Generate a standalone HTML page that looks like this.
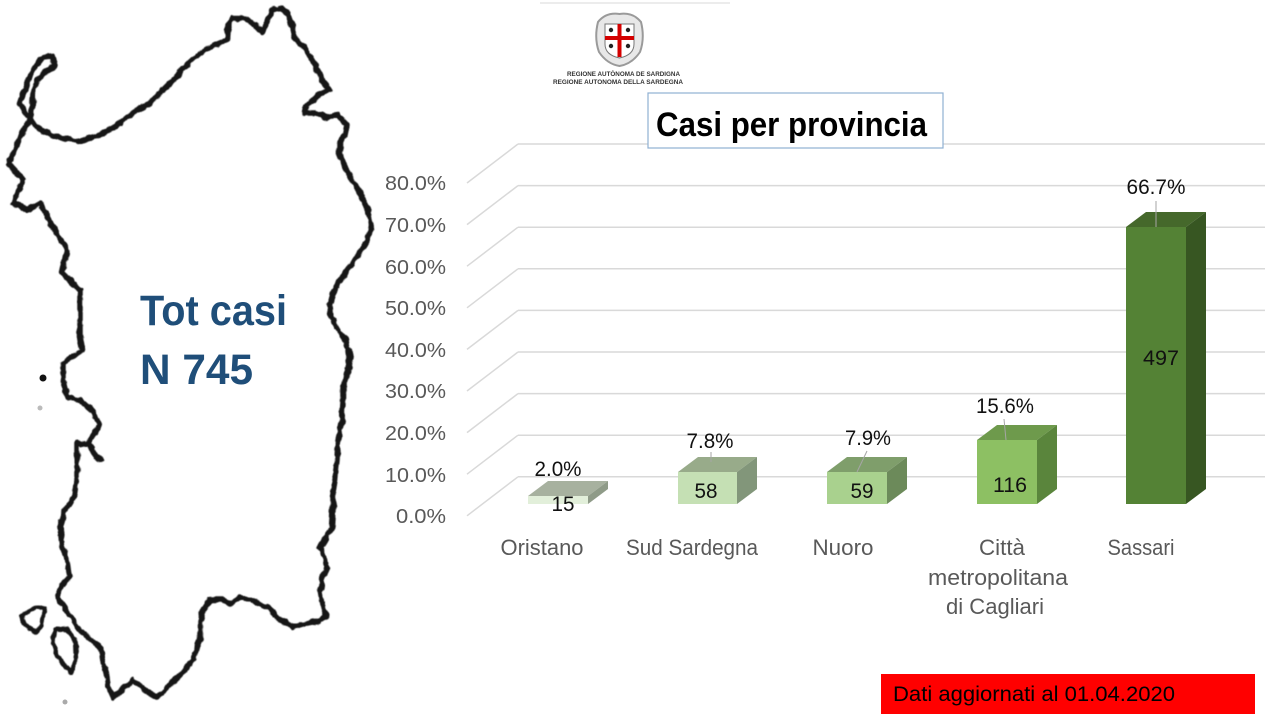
<!DOCTYPE html>
<html><head><meta charset="utf-8"><style>
html,body{margin:0;padding:0;background:#fff;}
svg{display:block;}
text{font-family:"Liberation Sans",Arial,sans-serif;}
</style></head><body>
<svg width="1281" height="721" viewBox="0 0 1281 721" xmlns="http://www.w3.org/2000/svg">
<defs>
<filter id="wig" x="-5%" y="-5%" width="110%" height="110%">
<feTurbulence type="fractalNoise" baseFrequency="0.12" numOctaves="2" seed="3" result="n"/>
<feDisplacementMap in="SourceGraphic" in2="n" scale="5" xChannelSelector="R" yChannelSelector="G" result="d"/>
<feGaussianBlur in="d" stdDeviation="0.6"/>
</filter>
</defs>
<rect width="1281" height="721" fill="#fff"/>
<!-- faint top line -->
<line x1="540" y1="3" x2="730" y2="3" stroke="#e6e6e6" stroke-width="1.5"/>

<!-- Sardinia map outline -->
<g fill="none" stroke="#151515" stroke-width="5.5" stroke-linejoin="round" stroke-linecap="round" filter="url(#wig)">
<path d="M30,120 L20,103 L27,83 L33,70 L43,57 L52,56 L55,65 L47,71 L38,80 L33,93 L32,110 L30,120
L40,130 L52,135 L66,139 L82,141 L100,135 L117,125 L135,112 L150,103 L165,88 L176,77 L190,62 L200,53 L215,45 L227,40 L228,25 L232,18 L245,18 L255,25 L262,32 L268,20 L272,10 L281,8 L288,15 L292,26 L296,40 L306,50 L315,64 L322,80 L330,90 L318,95 L305,108 L304,113 L316,113 L326,117 L337,115 L347,125 L345,135 L340,141 L340,155 L345,167 L352,180 L360,193 L368,210 L371,225 L368,240 L360,252 L350,267 L340,280 L333,293 L330,305 L331,317 L338,330 L347,343 L350,360 L347,375 L343,387 L343,402 L342,420 L338,440 L337,460 L335,480 L333,493 L333,510 L332,527 L325,540 L320,548 L325,557 L327,567 L322,580 L320,593 L322,605 L326,617 L320,621 L310,623 L293,627 L280,620 L267,607 L252,600 L240,597 L233,603 L222,600 L210,600 L203,610 L200,622 L200,640 L193,660 L180,675 L166,689 L157,697 L145,690 L133,680 L122,690 L113,697 L108,686 L107,677 L103,660 L100,647 L88,637 L77,627 L68,612 L57,597 L62,585 L70,577 L67,560 L62,545 L60,527 L65,510 L75,495 L77,480 L77,460 L77,443 L87,445 L100,460 L88,443 L100,425 L92,410 L80,400 L67,397 L63,380 L63,363 L83,350 L80,337 L80,290 L62,273 L67,250 L53,227 L40,203 L27,210 L13,203 L23,180 L8,163 L15,150 L20,136 L30,120 Z"/>
<path d="M22,615 L35,608 L45,607 L42,625 L35,632 L25,625 Z" stroke-width="4.5"/>
<path d="M55,630 L65,628 L75,640 L76,660 L70,673 L60,660 L53,645 Z" stroke-width="4.5"/>
</g>
<circle cx="43" cy="378" r="3.5" fill="#111"/>
<circle cx="40" cy="408" r="2.5" fill="#bbb"/>
<circle cx="65" cy="702" r="2.5" fill="#aaa"/>

<!-- Tot casi -->
<text x="140" y="325" font-size="43" font-weight="bold" fill="#1F4E79" textLength="147" lengthAdjust="spacingAndGlyphs">Tot casi</text>
<text x="140" y="384" font-size="43" font-weight="bold" fill="#1F4E79" textLength="113" lengthAdjust="spacingAndGlyphs">N 745</text>

<!-- Logo -->
<g>
<path d="M598,22 Q606,12 619.5,14 Q633,12 641,22 Q645,38 640,52 Q632,64 619.5,66 Q607,64 599,52 Q594,38 598,22 Z" fill="#e8e8e8" stroke="#9a9a9a" stroke-width="2"/>
<path d="M605,24 L634,24 L634,44 Q634,55 619.5,58 Q605,55 605,44 Z" fill="#fff" stroke="#777" stroke-width="1"/>
<rect x="617.5" y="24" width="4" height="33" fill="#d40000"/>
<rect x="605" y="36" width="29" height="4" fill="#d40000"/>
<circle cx="611" cy="30" r="2.2" fill="#222"/>
<circle cx="628" cy="30" r="2.2" fill="#222"/>
<circle cx="611" cy="46" r="2.2" fill="#222"/>
<circle cx="628" cy="46" r="2.2" fill="#222"/>
<text x="567" y="76" font-size="6" font-weight="bold" fill="#333" textLength="113" lengthAdjust="spacingAndGlyphs">REGIONE AUTÒNOMA DE SARDIGNA</text>
<text x="553" y="84" font-size="6" font-weight="bold" fill="#333" textLength="130" lengthAdjust="spacingAndGlyphs">REGIONE AUTONOMA DELLA SARDEGNA</text>
</g>

<!-- Gridlines -->
<g stroke="#d9d9d9" stroke-width="1.5" fill="none">
<line x1="518" y1="144" x2="1265" y2="144"/>
<line x1="518" y1="185.6" x2="1265" y2="185.6"/>
<line x1="518" y1="227.2" x2="1265" y2="227.2"/>
<line x1="518" y1="268.8" x2="1265" y2="268.8"/>
<line x1="518" y1="310.4" x2="1265" y2="310.4"/>
<line x1="518" y1="352" x2="1265" y2="352"/>
<line x1="518" y1="393.6" x2="1265" y2="393.6"/>
<line x1="518" y1="435.2" x2="1265" y2="435.2"/>
<line x1="518" y1="476.8" x2="1265" y2="476.8"/>
<line x1="518" y1="144" x2="467" y2="183"/>
<line x1="518" y1="185.6" x2="467" y2="224.6"/>
<line x1="518" y1="227.2" x2="467" y2="266.2"/>
<line x1="518" y1="268.8" x2="467" y2="307.8"/>
<line x1="518" y1="310.4" x2="467" y2="349.4"/>
<line x1="518" y1="352" x2="467" y2="391"/>
<line x1="518" y1="393.6" x2="467" y2="432.6"/>
<line x1="518" y1="435.2" x2="467" y2="474.2"/>
<line x1="518" y1="476.8" x2="467" y2="515.8"/>
</g>

<!-- Title box -->
<rect x="648" y="93" width="295" height="55" fill="#fff" stroke="#8fb0d3" stroke-width="1.2"/>
<text x="656" y="136" font-size="34" font-weight="bold" fill="#000" textLength="271" lengthAdjust="spacingAndGlyphs">Casi per provincia</text>

<!-- Y axis labels -->
<g font-size="20" fill="#595959" text-anchor="end">
<text x="446" y="190" textLength="61" lengthAdjust="spacingAndGlyphs">80.0%</text>
<text x="446" y="232" textLength="61" lengthAdjust="spacingAndGlyphs">70.0%</text>
<text x="446" y="274" textLength="61" lengthAdjust="spacingAndGlyphs">60.0%</text>
<text x="446" y="315" textLength="61" lengthAdjust="spacingAndGlyphs">50.0%</text>
<text x="446" y="357" textLength="61" lengthAdjust="spacingAndGlyphs">40.0%</text>
<text x="446" y="398" textLength="61" lengthAdjust="spacingAndGlyphs">30.0%</text>
<text x="446" y="440" textLength="61" lengthAdjust="spacingAndGlyphs">20.0%</text>
<text x="446" y="482" textLength="61" lengthAdjust="spacingAndGlyphs">10.0%</text>
<text x="446" y="523" textLength="50" lengthAdjust="spacingAndGlyphs">0.0%</text>
</g>

<!-- Bars -->
<polygon points="528,496 548,481 608,481 588,496" fill="#a7b19f"/>
<polygon points="588,496 608,481 608,489 588,504" fill="#8f9b88"/>
<rect x="528" y="496" width="60" height="8" fill="#e2efda"/>
<polygon points="678,472 698,457 757,457 737,472" fill="#98ab8a"/>
<polygon points="737,472 757,457 757,489 737,504" fill="#82967a"/>
<rect x="678" y="472" width="59" height="32" fill="#c5e0b4"/>
<polygon points="827,472 847,457 907,457 887,472" fill="#7f9e6b"/>
<polygon points="887,472 907,457 907,489 887,504" fill="#6c8a5a"/>
<rect x="827" y="472" width="60" height="32" fill="#a9d18e"/>
<polygon points="977,440 997,425 1057,425 1037,440" fill="#6e9a4c"/>
<polygon points="1037,440 1057,425 1057,489 1037,504" fill="#5a853c"/>
<rect x="977" y="440" width="60" height="64" fill="#8dc063"/>
<polygon points="1126,227 1146,212 1206,212 1186,227" fill="#45682b"/>
<polygon points="1186,227 1206,212 1206,489 1186,504" fill="#375622"/>
<rect x="1126" y="227" width="60" height="277" fill="#548235"/>

<!-- Leader lines -->
<g stroke="#a6a6a6" stroke-width="1">
<line x1="711" y1="452" x2="711" y2="462"/>
<line x1="867" y1="451" x2="857" y2="472"/>
<line x1="1004" y1="419" x2="1006" y2="440"/>
<line x1="1156" y1="201" x2="1156" y2="227"/>
</g>

<!-- Data labels -->
<g font-size="21" fill="#111" text-anchor="middle">
<text x="558" y="476" textLength="47" lengthAdjust="spacingAndGlyphs">2.0%</text>
<text x="563" y="511" textLength="23" lengthAdjust="spacingAndGlyphs">15</text>
<text x="710" y="448" textLength="47" lengthAdjust="spacingAndGlyphs">7.8%</text>
<text x="706" y="498" textLength="23" lengthAdjust="spacingAndGlyphs">58</text>
<text x="868" y="445" textLength="46" lengthAdjust="spacingAndGlyphs">7.9%</text>
<text x="862" y="498" textLength="23" lengthAdjust="spacingAndGlyphs">59</text>
<text x="1005" y="413" textLength="58" lengthAdjust="spacingAndGlyphs">15.6%</text>
<text x="1010" y="492" textLength="34" lengthAdjust="spacingAndGlyphs">116</text>
<text x="1156" y="194" textLength="59" lengthAdjust="spacingAndGlyphs">66.7%</text>
<text x="1161" y="365" textLength="36" lengthAdjust="spacingAndGlyphs">497</text>
</g>

<!-- Category labels -->
<g font-size="22" fill="#595959" text-anchor="middle">
<text x="542" y="555" textLength="83" lengthAdjust="spacingAndGlyphs">Oristano</text>
<text x="692" y="555" textLength="132" lengthAdjust="spacingAndGlyphs">Sud Sardegna</text>
<text x="843" y="555" textLength="61" lengthAdjust="spacingAndGlyphs">Nuoro</text>
<text x="1002" y="555" textLength="46" lengthAdjust="spacingAndGlyphs">Città</text>
<text x="998" y="585" textLength="140" lengthAdjust="spacingAndGlyphs">metropolitana</text>
<text x="995" y="614" textLength="98" lengthAdjust="spacingAndGlyphs">di Cagliari</text>
<text x="1141" y="555" textLength="67" lengthAdjust="spacingAndGlyphs">Sassari</text>
</g>

<!-- Red box -->
<rect x="881" y="674" width="374" height="40" fill="#ff0000"/>
<text x="893" y="701" font-size="21" fill="#000" textLength="282" lengthAdjust="spacingAndGlyphs">Dati aggiornati al 01.04.2020</text>
</svg>
</body></html>
